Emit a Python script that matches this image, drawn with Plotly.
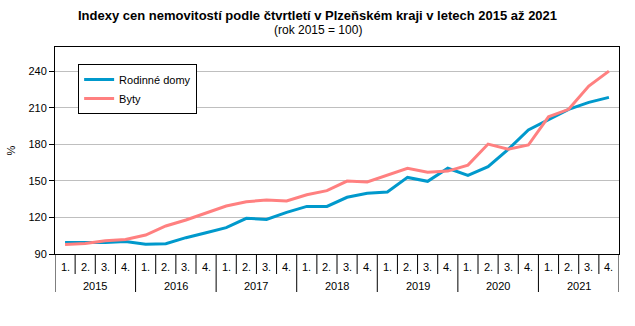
import plotly.graph_objects as go

# Quarterly price indices, 2015 = 100
years = ["2015", "2016", "2017", "2018", "2019", "2020", "2021"]
quarters = ["1.", "2.", "3.", "4."]

rodinne_domy = [99.5, 99.5, 99.5, 100.2, 98.0, 98.5, 103.4, 107.5,
                111.6, 119.3, 118.4, 124.2, 129.1, 129.1, 136.6, 139.8,
                140.9, 152.9, 149.7, 160.4, 154.6, 161.7, 176.0, 191.8,
                200.0, 208.8, 214.5, 218.6]
byty = [97.9, 98.7, 100.9, 102.0, 105.6, 113.0, 117.9, 123.4,
        129.4, 132.9, 134.3, 133.5, 138.7, 142.0, 149.9, 149.1,
        154.9, 160.4, 157.1, 158.1, 163.0, 180.3, 176.0, 179.5,
        202.7, 208.8, 227.9, 240.2]

y_ticks = [90, 120, 150, 180, 210, 240]

title_text = "Indexy cen nemovitostí podle čtvrtletí v Plzeňském kraji v letech 2015 až 2021"
subtitle_text = "(rok 2015 = 100)"

n = len(years) * len(quarters)
x = list(range(n))

FONT = "Liberation Sans, Arial, sans-serif"
MARGIN_L, MARGIN_R = 55, 16
WIDTH = 635
# paper-x of the page centre, so the heading is centred on the whole page
page_centre = (WIDTH / 2 - MARGIN_L) / (WIDTH - MARGIN_L - MARGIN_R)

fig = go.Figure()
fig.add_trace(go.Scatter(x=x, y=rodinne_domy, mode="lines", name="Rodinné domy",
                         line=dict(color="#0099CC", width=3)))
fig.add_trace(go.Scatter(x=x, y=byty, mode="lines", name="Byty",
                         line=dict(color="#FF8080", width=3)))

shapes = []
annotations = []
for i in range(n + 1):
    year_edge = (i % len(quarters) == 0)
    shapes.append(dict(type="line", xref="x", yref="paper", x0=i - 0.5, x1=i - 0.5,
                       ysizemode="pixel", yanchor=0, y0=0, y1=-38 if year_edge else -20,
                       line=dict(color="black", width=1)))
for i in range(n):
    annotations.append(dict(x=i, y=0, xref="x", yref="paper", yanchor="middle",
                            yshift=-13, text=quarters[i % len(quarters)], showarrow=False,
                            font=dict(family=FONT, size=11, color="black")))
for k, yr in enumerate(years):
    annotations.append(dict(x=k * len(quarters) + 1.5, y=0, xref="x", yref="paper",
                            yanchor="middle", yshift=-32, text=yr, showarrow=False,
                            font=dict(family=FONT, size=11, color="black")))

# Title and subtitle as two centred lines above the plot
annotations.append(dict(x=page_centre, y=1, xref="paper", yref="paper", xanchor="center",
                        yanchor="middle", yshift=32, showarrow=False,
                        text="<b>" + title_text + "</b>",
                        font=dict(family=FONT, size=13, color="black")))
annotations.append(dict(x=page_centre, y=1, xref="paper", yref="paper", xanchor="center",
                        yanchor="middle", yshift=17, showarrow=False,
                        text=subtitle_text,
                        font=dict(family=FONT, size=12, color="black")))

fig.update_layout(
    width=WIDTH, height=326,
    margin=dict(l=MARGIN_L, r=MARGIN_R, t=47, b=72, autoexpand=False),
    paper_bgcolor="white", plot_bgcolor="white",
    font=dict(family=FONT, size=11, color="black"),
    xaxis=dict(range=[-0.5, n - 0.5], showticklabels=False, ticks="", showgrid=False,
               zeroline=False, showline=True, linecolor="black", linewidth=1, mirror=True,
               automargin=False),
    yaxis=dict(range=[90, 260], tickvals=y_ticks, ticks="outside", ticklen=5,
               tickcolor="black", showgrid=True, gridcolor="#BFBFBF", gridwidth=1,
               zeroline=False, showline=True, linecolor="black", linewidth=1, mirror=True,
               automargin=False,
               title=dict(text="%", standoff=10, font=dict(size=11))),
    legend=dict(x=0.041, y=0.918, xanchor="left", yanchor="top",
                bgcolor="white", bordercolor="black", borderwidth=1,
                font=dict(family=FONT, size=11), tracegroupgap=2, itemwidth=30),
    shapes=shapes, annotations=annotations,
    showlegend=True,
)

fig.write_html("out.html")
